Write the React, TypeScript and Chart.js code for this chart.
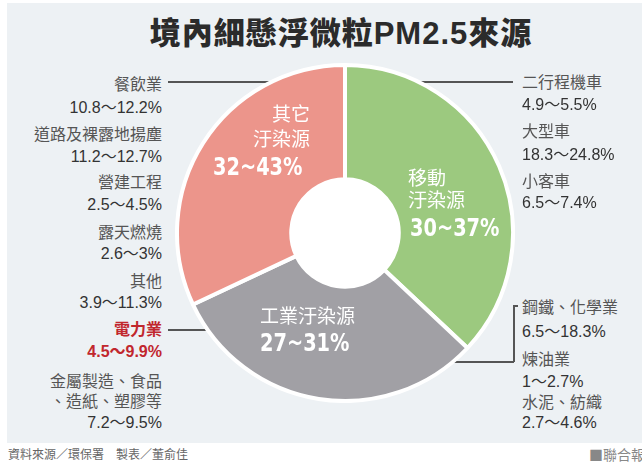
import React, { useEffect, useRef } from "react";
import { Chart, registerables } from "chart.js";

Chart.register(...registerables);

// ---- data ----
const categories = ["移動汙染源", "工業汙染源", "其它汙染源"];
const shares = [37, 31, 32];
const sliceColors = ["#9cc97f", "#a1a0a5", "#ec958b"];
const sliceTitles = [["移動", "汙染源"], ["工業汙染源"], ["其它", "汙染源"]];
const sliceRanges = ["30~37%", "27~31%", "32~43%"];

const leftNames = ["餐飲業", "道路及裸露地揚塵", "營建工程", "露天燃燒", "其他"];
const leftValues = ["10.8～12.2%", "11.2～12.7%", "2.5～4.5%", "2.6～3%", "3.9～11.3%"];
const leftNameY = [85, 135, 183, 233, 282];
const leftValueY = [108, 157, 205, 254, 303];

const powerName = "電力業";
const powerValue = "4.5～9.9%";
const metalLines = ["金屬製造、食品", "、造紙、塑膠等", "7.2～9.5%"];

const rightNames = ["二行程機車", "大型車", "小客車", "鋼鐵、化學業", "煉油業", "水泥、紡織"];
const rightValues = ["4.9～5.5%", "18.3～24.8%", "6.5～7.4%", "6.5～18.3%", "1～2.7%", "2.7～4.6%"];
const rightNameY = [83, 132, 182, 308, 360, 403];
const rightValueY = [105, 155, 203, 332, 382, 423];

const FONT = '"Liberation Sans", "Noto Sans CJK TC", sans-serif';
const CJK = '"Noto Sans CJK TC", "Liberation Sans", sans-serif';
const COND = '"Liberation Sans Narrow", "DejaVu Sans Condensed", "Liberation Sans", sans-serif';

const holePlugin = {
  id: "hole",
  afterDatasetsDraw(chart: any) {
    const meta = chart.getDatasetMeta(0);
    const arc = meta.data[0];
    if (!arc) return;
    const { x, y, innerRadius } = arc.getProps(["x", "y", "innerRadius"], true);
    const ctx = chart.ctx;
    ctx.save();
    ctx.beginPath();
    ctx.arc(x, y, innerRadius + 1, 0, Math.PI * 2);
    ctx.fillStyle = "#ffffff";
    ctx.fill();
    ctx.restore();
  },
};

function Line(props: { text: string; x: number; y: number; align: "left" | "right"; size?: number; color?: string; bold?: boolean; family?: string; sx?: number }) {
  const { text, x, y, align, size = 16, color = "#333", bold = false, family = FONT, sx } = props;
  const style: React.CSSProperties = {
    position: "absolute",
    top: y - 11,
    height: 22,
    lineHeight: "22px",
    fontSize: size,
    color,
    fontWeight: bold ? 700 : 400,
    fontFamily: family,
    whiteSpace: "nowrap",
  };
  if (sx) {
    style.transform = `scaleX(${sx})`;
    style.transformOrigin = "left center";
  }
  if (align === "right") {
    style.right = 642 - x;
    style.textAlign = "right";
  } else {
    style.left = x;
  }
  return <div style={style}>{text}</div>;
}

export default function App() {
  const ref = useRef<HTMLCanvasElement>(null);
  useEffect(() => {
    if (!ref.current) return;
    const chart = new Chart(ref.current, {
      type: "doughnut",
      data: {
        labels: categories,
        datasets: [
          {
            data: shares,
            backgroundColor: sliceColors,
            borderColor: "#ffffff",
            borderWidth: 4,
          },
        ],
      },
      options: {
        responsive: false,
        animation: false,
        cutout: "32%",
        layout: { padding: 0 },
        plugins: { legend: { display: false }, tooltip: { enabled: false } },
      },
      plugins: [holePlugin],
    });
    return () => chart.destroy();
  }, []);

  const bar = (s: React.CSSProperties) => <div style={{ position: "absolute", background: "#555", ...s }} />;

  return (
    <div style={{ position: "fixed", left: 0, top: 0, width: 642, height: 467, background: "#fff", overflow: "hidden" }}>
      <div style={{ position: "absolute", left: 7, top: 3, width: 635, height: 440, background: "#edf1f4" }} />
      {/* title */}
      <div
        style={{
          position: "absolute",
          left: 0,
          width: 682,
          top: 11,
          height: 40,
          lineHeight: "40px",
          textAlign: "center",
          fontSize: 31,
          fontWeight: 900,
          color: "#2b2b2b",
          fontFamily: '"Noto Sans CJK TC", "Liberation Sans", sans-serif',
          letterSpacing: 1,
        }}
      >
        境內細懸浮微粒<span style={{ fontFamily: '"Liberation Sans", sans-serif', fontWeight: 700 }}>PM2.5</span>來源
      </div>

      {/* leader lines (behind chart) */}
      {bar({ left: 168, top: 81, width: 110, height: 1.5 })}
      {bar({ left: 415, top: 81, width: 98, height: 1.5 })}
      {bar({ left: 168, top: 329, width: 50, height: 1.5 })}
      {bar({ left: 445, top: 361, width: 69, height: 1.5 })}
      {bar({ left: 513, top: 305, width: 1.5, height: 57 })}
      {bar({ left: 513, top: 305, width: 5, height: 1.5 })}

      {/* chart */}
      <div style={{ position: "absolute", left: 175, top: 63, width: 340, height: 340 }}>
        <canvas ref={ref} width={340} height={340} />
      </div>

      {/* slice labels */}
      <Line text={sliceTitles[2][0]} x={310} y={113} align="right" size={19} color="#fff" family={CJK} />
      <Line text={sliceTitles[2][1]} x={310} y={138} align="right" size={19} color="#fff" family={CJK} />
      <Line text={sliceRanges[2]} x={213} y={167} align="left" size={25} color="#fff" bold family={COND} sx={0.86} />

      <Line text={sliceTitles[0][0]} x={408} y={177} align="left" size={19} color="#fff" family={CJK} />
      <Line text={sliceTitles[0][1]} x={408} y={199} align="left" size={19} color="#fff" family={CJK} />
      <Line text={sliceRanges[0]} x={410} y={228} align="left" size={25} color="#fff" bold family={COND} sx={0.86} />

      <Line text={sliceTitles[1][0]} x={260} y={315} align="left" size={19} color="#fff" family={CJK} />
      <Line text={sliceRanges[1]} x={260} y={343} align="left" size={25} color="#fff" bold family={COND} sx={0.86} />

      {/* left labels */}
      {leftNames.map((t, i) => (
        <Line key={"ln" + i} text={t} x={162} y={leftNameY[i]} align="right" color="#555" />
      ))}
      {leftValues.map((t, i) => (
        <Line key={"lv" + i} text={t} x={162} y={leftValueY[i]} align="right" color="#333" />
      ))}
      <Line text={powerName} x={162} y={330} align="right" color="#c1272d" bold />
      <Line text={powerValue} x={162} y={352} align="right" color="#c1272d" bold />
      <Line text={metalLines[0]} x={162} y={382} align="right" color="#555" />
      <Line text={metalLines[1]} x={162} y={402} align="right" color="#555" />
      <Line text={metalLines[2]} x={162} y={423} align="right" color="#333" />

      {/* right labels */}
      {rightNames.map((t, i) => (
        <Line key={"rn" + i} text={t} x={522} y={rightNameY[i]} align="left" color="#555" />
      ))}
      {rightValues.map((t, i) => (
        <Line key={"rv" + i} text={t} x={522} y={rightValueY[i]} align="left" color="#333" />
      ))}

      {/* footer */}
      <Line text="資料來源／環保署　製表／董俞佳" x={8} y={454} align="left" size={12} color="#666" family={CJK} />
      <Line text="■聯合報" x={589} y={454} align="left" size={14} color="#888" family={CJK} />
    </div>
  );
}
